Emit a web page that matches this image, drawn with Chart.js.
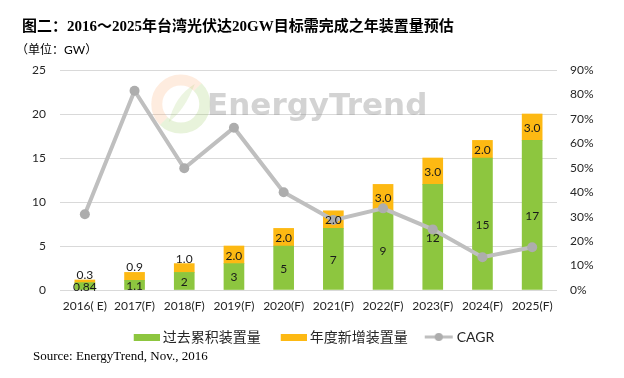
<!DOCTYPE html>
<html><head><meta charset="utf-8">
<script src="https://cdn.jsdelivr.net/npm/chart.js@4"></script>
<style>
html,body{margin:0;padding:0;background:#fff;}
#wrap{position:relative;width:624px;height:378px;overflow:hidden;background:#fff;}
#c{position:absolute;left:0;top:0;}
.t{position:absolute;white-space:nowrap;color:#000;}
#title{left:22px;top:16px;font-weight:bold;font-size:15px;font-family:'Liberation Serif','Noto Sans CJK SC',serif;line-height:20px;}
#unit{left:16px;top:42px;font-size:12px;font-family:Lato,'Noto Sans CJK SC',sans-serif;line-height:16px;}
#src{left:33px;top:348px;font-size:13px;font-family:'Liberation Serif',serif;line-height:16px;}
</style></head>
<body><div id="wrap">
<canvas id="c" width="624" height="378"></canvas>
<div class="t" id="title">图二：2016～2025年台湾光伏达20GW目标需完成之年装置量预估</div>
<div class="t" id="unit">（单位：GW）</div>
<div class="t" id="src">Source: EnergyTrend, Nov., 2016</div>
</div>
<script>
const categories = ['2016( E)','2017(F)','2018(F)','2019(F)','2020(F)','2021(F)','2022(F)','2023(F)','2024(F)','2025(F)'];
const cumulative = [0.84, 1.1, 2, 3, 5, 7, 9, 12, 15, 17];
const annualNew = [0.3, 0.9, 1.0, 2.0, 2.0, 2.0, 3.0, 3.0, 2.0, 3.0];
const cagr = [31, 81.5, 49.8, 66.4, 40, 28.6, 33.4, 24.8, 13.4, 17.5];
const seriesNames = ['过去累积装置量', '年度新增装置量', 'CAGR'];
const leftMax = 25, leftStep = 5;
const rightMax = 90, rightStep = 10;

const GREEN = '#8DC63F', ORANGE = '#FDB913', GRAY = '#BFBFBF';
const tickFont = {family: "Lato, 'Noto Sans CJK SC', sans-serif", size: 12};

function boxIcon(color){
  const c = document.createElement('canvas'); c.width = 34; c.height = 7;
  const x = c.getContext('2d'); x.fillStyle = color; x.fillRect(8, 0, 26, 7); return c;
}
function lineIcon(color){
  const c = document.createElement('canvas'); c.width = 34; c.height = 10;
  const x = c.getContext('2d'); x.strokeStyle = color; x.lineWidth = 3;
  x.beginPath(); x.moveTo(5, 5); x.lineTo(33, 5); x.stroke();
  x.fillStyle = '#ADADAD'; x.beginPath(); x.arc(19, 5, 4, 0, Math.PI*2); x.fill(); return c;
}
const legendIcons = [boxIcon(GREEN), boxIcon(ORANGE), lineIcon(GRAY)];

const watermark = {
  id: 'watermark',
  beforeDatasetsDraw(chart){
    const {ctx, chartArea: a} = chart; const w = a.right - a.left, h = a.bottom - a.top;
    ctx.save();
    const cx = a.left + 0.243*w, cy = a.top + 0.155*h, r = 24;
    ctx.lineWidth = 11;
    ctx.strokeStyle = 'rgba(250,170,110,0.22)';
    ctx.beginPath(); ctx.arc(cx, cy, r, Math.PI*0.75, Math.PI*1.75); ctx.stroke();
    ctx.strokeStyle = 'rgba(150,200,90,0.22)';
    ctx.beginPath(); ctx.arc(cx, cy, r, Math.PI*1.75, Math.PI*2.75); ctx.stroke();
    ctx.fillStyle = 'rgba(150,200,90,0.18)';
    ctx.beginPath(); ctx.moveTo(cx-12, cy+18); ctx.quadraticCurveTo(cx-6, cy-8, cx+14, cy-20); ctx.quadraticCurveTo(cx+4, cy+6, cx-12, cy+18); ctx.fill();
    ctx.font = "bold 31px 'DejaVu Sans', sans-serif";
    ctx.fillStyle = 'rgba(150,150,150,0.42)';
    ctx.textBaseline = 'alphabetic'; ctx.textAlign = 'left';
    ctx.fillText('EnergyTrend', a.left + 0.296*w, a.top + 0.205*h);
    ctx.restore();
  }
};

const barLabels = {
  id: 'barLabels',
  afterDatasetsDraw(chart){
    const ctx = chart.ctx; ctx.save();
    ctx.font = "12px Lato, sans-serif"; ctx.fillStyle = '#1a1a1a'; ctx.textAlign = 'center';
    [0, 1].forEach(di => {
      const meta = chart.getDatasetMeta(di);
      meta.data.forEach((el, i) => {
        const v = chart.data.datasets[di].data[i];
        const txt = di === 0 ? String(v) : v.toFixed(1);
        const top = Math.min(el.y, el.base), bot = Math.max(el.y, el.base), hh = bot - top;
        if (di === 1 && hh < 12) {
          ctx.textBaseline = 'alphabetic'; ctx.fillText(txt, el.x, top - 1);
        } else {
          ctx.textBaseline = 'middle'; ctx.fillText(txt, el.x, (top + bot) / 2 + 1);
        }
      });
    });
    ctx.restore();
  }
};

new Chart(document.getElementById('c'), {
  data: {
    labels: categories,
    datasets: [
      {type: 'bar', label: seriesNames[0], data: cumulative, backgroundColor: GREEN, yAxisID: 'y', barThickness: 20, order: 2, stack: 's'},
      {type: 'bar', label: seriesNames[1], data: annualNew, backgroundColor: ORANGE, yAxisID: 'y', barThickness: 20, order: 2, stack: 's'},
      {type: 'line', label: seriesNames[2], data: cagr, borderColor: GRAY, backgroundColor: GRAY, borderWidth: 4, pointRadius: 5, pointBackgroundColor: '#ADADAD', pointBorderWidth: 0, yAxisID: 'y1', order: 1, tension: 0}
    ]
  },
  options: {
    responsive: false, animation: false, devicePixelRatio: 1,
    layout: {padding: {top: 70, bottom: 24, left: 0, right: 0}},
    plugins: {
      tooltip: {enabled: false},
      legend: {
        position: 'bottom',
        labels: {
          usePointStyle: true, pointStyleWidth: 26, padding: 16, color: '#262626',
          font: {family: "Lato, 'Noto Sans CJK SC', sans-serif", size: 14},
          sort: (a, b) => a.datasetIndex - b.datasetIndex,
          generateLabels(chart){
            const items = Chart.defaults.plugins.legend.labels.generateLabels(chart);
            return items.map(it => Object.assign({}, it, {pointStyle: legendIcons[it.datasetIndex]}));
          }
        }
      }
    },
    scales: {
      x: {stacked: true, offset: true, grid: {display: false, drawTicks: false}, border: {display: false},
          ticks: {font: tickFont, color: '#262626', padding: 9, maxRotation: 0, autoSkip: false},
          afterFit(s){ s.height = 24; }},
      y: {stacked: true, position: 'left', min: 0, max: leftMax,
          ticks: {stepSize: leftStep, font: tickFont, color: '#262626', padding: 14},
          grid: {color: '#D9D9D9', drawTicks: false, lineWidth: 1}, border: {display: false},
          afterFit(s){ s.width = 60; }},
      y1: {position: 'right', min: 0, max: rightMax,
          ticks: {stepSize: rightStep, font: tickFont, color: '#262626', padding: 13, callback: v => v + '%'},
          grid: {display: false, drawTicks: false}, border: {display: false},
          afterFit(s){ s.width = 67; }}
    }
  },
  plugins: [watermark, barLabels]
});
</script>
</body></html>
